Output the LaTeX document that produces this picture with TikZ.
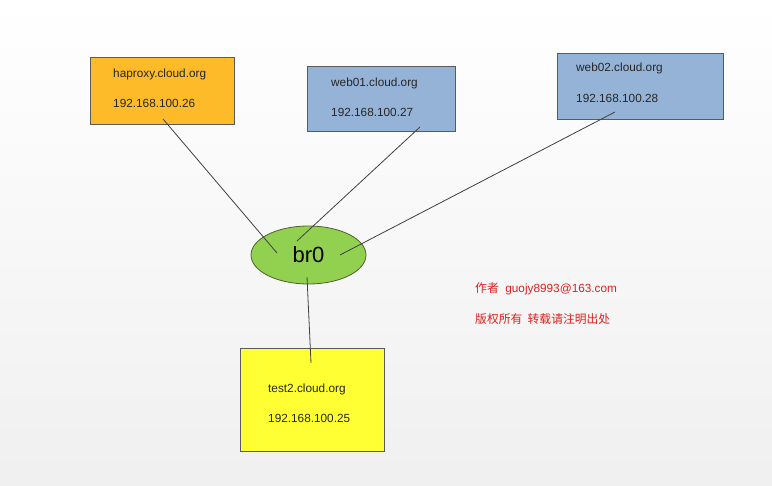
\documentclass[tikz,border=0pt]{standalone}
\usepackage{fontspec}
\setmainfont{Liberation Sans}
\newfontfamily\cjk{Noto Sans CJK SC}
\usetikzlibrary{shapes.geometric,shadows}
\definecolor{hapfill}{HTML}{FDBB2A}
\definecolor{webfill}{HTML}{95B3D7}
\definecolor{testfill}{HTML}{FFFF33}
\definecolor{brfill}{HTML}{92D050}
\definecolor{brline}{HTML}{4F6228}
\definecolor{boxline}{HTML}{5A5A5A}
\definecolor{linkc}{HTML}{404040}
\definecolor{redtxt}{HTML}{E0201F}
\begin{document}
\begin{tikzpicture}[x=1pt,y=-1pt,
  hostbox/.style={draw=boxline, line width=0.8pt, rectangle, inner sep=0pt,
    drop shadow={shadow xshift=1pt, shadow yshift=-1.2pt, opacity=0.35}},
  hosttxt/.style={anchor=west, inner sep=0pt, font=\fontsize{11.8}{14}\selectfont, text=black!85},
  link/.style={draw=linkc, line width=0.8pt},
  redlabel/.style={anchor=west, inner sep=0pt, text=redtxt, font=\fontsize{11.8}{14}\selectfont}]
\shade[top color=white, bottom color=gray!12] (0,0) rectangle (772,486);
\useasboundingbox (0,0) rectangle (772,486);

% host boxes
\node[hostbox, fill=hapfill, minimum width=144pt, minimum height=67pt] (hap) at (162,90.5) {};
\node[hostbox, fill=webfill, minimum width=148pt, minimum height=65pt] (web1) at (381,98.5) {};
\node[hostbox, fill=webfill, minimum width=166pt, minimum height=66pt] (web2) at (640,86) {};
\node[hostbox, fill=testfill, minimum width=144pt, minimum height=103pt] (test) at (312,399.5) {};

% bridge
\node[ellipse, draw=brline, line width=0.8pt, fill=brfill, minimum width=115pt, minimum height=58pt,
  inner sep=0pt, font=\fontsize{22}{25}\selectfont] (br) at (308.5,255) {br0};

% texts
\node[hosttxt] (t1a) at (113,74.5) {haproxy.cloud.org};
\node[hosttxt] (t1b) at (113,103.5) {192.168.100.26};
\node[hosttxt] (t2a) at (331,83.5) {web01.cloud.org};
\node[hosttxt] (t2b) at (331,112.5) {192.168.100.27};
\node[hosttxt] (t3a) at (576,68.5) {web02.cloud.org};
\node[hosttxt] (t3b) at (576,98.5) {192.168.100.28};
\node[hosttxt] (t4a) at (268,389.5) {test2.cloud.org};
\node[hosttxt] (t4b) at (268,418.5) {192.168.100.25};

% connector end points
\coordinate (hapS) at (163,119);
\coordinate (brA) at (277,253);
\coordinate (web1S) at (420,127);
\coordinate (brB) at (297,241);
\coordinate (web2S) at (615,112);
\coordinate (brC) at (340,255);
\coordinate (brD) at (307,277);
\coordinate (testN) at (311,363);

\draw[link] (hapS) -- (brA);
\draw[link] (web1S) -- (brB);
\draw[link] (web2S) -- (brC);
\draw[link] (brD) -- (testN);

% copyright
\node[redlabel] (r1) at (475,288.5) {{\cjk 作者}\ \ guojy8993@163.com};
\node[redlabel] (r2) at (475,319.5) {\cjk 版权所有\ \ 转载请注明出处};
\end{tikzpicture}
\end{document}
